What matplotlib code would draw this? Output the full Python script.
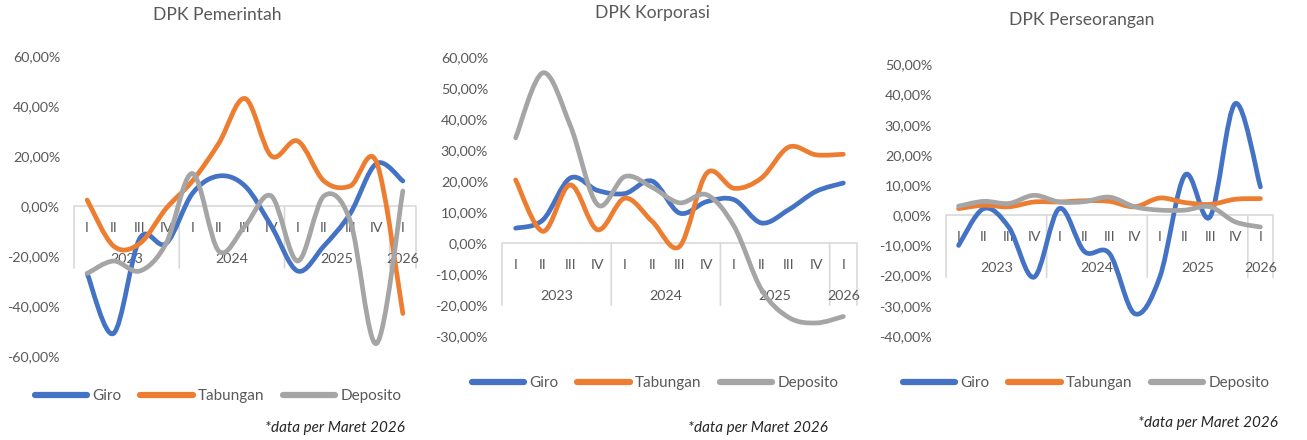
import matplotlib.pyplot as plt
from matplotlib.path import Path
from matplotlib.patches import PathPatch
from matplotlib.lines import Line2D
from matplotlib.ticker import FuncFormatter

plt.rcParams['font.family'] = ['Lato', 'DejaVu Sans']

# quarters 2023 I .. 2026 I
quarters = ['I', 'II', 'III', 'IV', 'I', 'II', 'III', 'IV', 'I', 'II', 'III', 'IV', 'I']
years = ['2023', '2024', '2025', '2026']
year_sizes = [4, 4, 4, 1]

# DPK Pemerintah (%)
pem_giro = [-27, -51, -13, -15, 5, 12, 8, -8, -26, -16, -3, 17, 10]
pem_tabungan = [2.4, -16, -15, -1, 10, 25, 43, 20, 26, 10, 8, 17.5, -43]
pem_deposito = [-27, -22, -26, -15, 13, -18, -8, 4, -22, 4, -6, -55, 6]

# DPK Korporasi (%)
kor_giro = [4.8, 7.5, 21, 17, 16, 20, 9.7, 13.4, 14, 6.5, 10.8, 16.7, 19.4]
kor_tabungan = [20.4, 3.8, 18.8, 4.3, 14.5, 7, -1.1, 22.6, 17.7, 21, 31, 28.5, 28.7]
kor_deposito = [34, 55, 38, 12.4, 21.5, 18, 13, 15.6, 5.4, -15, -24, -25.8, -23.7]

# DPK Perseorangan (%)
per_giro = [-10, 2.2, -4, -20.5, 2.2, -12, -12.7, -32.6, -20.5, 13.3, -0.5, 37, 9.4]
per_tabungan = [2.2, 3.3, 2.8, 4.4, 4.4, 4.8, 4.6, 2.8, 5.7, 4.2, 3.6, 5.3, 5.5]
per_deposito = [3, 4.6, 3.9, 6.6, 4.4, 4.5, 6, 2.8, 1.7, 1.7, 2.8, -2.2, -3.9]

series_names = ['Giro', 'Tabungan', 'Deposito']
colors = ['#4472C4', '#ED7D31', '#A5A5A5']
text_color = '#595959'
axis_color = '#D9D9D9'

W, H = 1307, 440
fig = plt.figure(figsize=(W / 100, H / 100), dpi=100)


def smooth_path(ys):
    # Excel-style smoothed line: cubic bezier through each point
    xs = list(range(len(ys)))
    pts = list(zip(xs, ys))
    verts = [pts[0]]
    codes = [Path.MOVETO]
    n = len(pts)
    for i in range(n - 1):
        p0 = pts[i - 1] if i > 0 else pts[i]
        p1 = pts[i]
        p2 = pts[i + 1]
        p3 = pts[i + 2] if i + 2 < n else pts[i + 1]
        c1 = (p1[0] + (p2[0] - p0[0]) / 6, p1[1] + (p2[1] - p0[1]) / 6)
        c2 = (p2[0] - (p3[0] - p1[0]) / 6, p2[1] - (p3[1] - p1[1]) / 6)
        verts += [c1, c2, p2]
        codes += [Path.CURVE4] * 3
    return Path(verts, codes)


def panel(box, title, title_xy, data, ylim, step, legend_xy, note_xy):
    left, top, right, bottom = box
    ax = fig.add_axes([left / W, 1 - bottom / H, (right - left) / W, (bottom - top) / H])
    for ys, c in zip(data, colors):
        ax.add_patch(PathPatch(smooth_path(ys), fill=False, edgecolor=c, lw=3.4,
                               capstyle='round', joinstyle='round', zorder=3))
    ax.set_xlim(-0.5, len(quarters) - 0.5)
    ax.set_ylim(*ylim)
    ax.set_yticks(range(ylim[0], ylim[1] + 1, step))
    ax.yaxis.set_major_formatter(FuncFormatter(lambda v, p: f'{v:.2f}'.replace('.', ',') + '%'))
    ax.tick_params(axis='y', length=0, pad=10, labelsize=10.3, labelcolor=text_color)
    ax.set_xticks([])
    for s in ax.spines.values():
        s.set_visible(False)
    ax.patch.set_alpha(0)

    # category axis at zero
    ax.axhline(0, color=axis_color, lw=1.2, zorder=1)
    bounds = [-0.5]
    for n in year_sizes:
        bounds.append(bounds[-1] + n)
    for b in bounds:
        ax.annotate('', xy=(b, 0), xytext=(0, -62), textcoords='offset pixels',
                    arrowprops=dict(arrowstyle='-', color=axis_color, lw=1.2,
                                    shrinkA=0, shrinkB=0), zorder=1)
    for i, q in enumerate(quarters):
        ax.annotate(q, xy=(i, 0), xytext=(0, -22), textcoords='offset pixels',
                    ha='center', va='center', fontsize=10.3, color=text_color, zorder=1)
    for k, y in enumerate(years):
        c = (bounds[k] + bounds[k + 1]) / 2
        ax.annotate(y, xy=(c, 0), xytext=(0, -53), textcoords='offset pixels',
                    ha='center', va='center', fontsize=10.3, color=text_color, zorder=1)

    fig.text(title_xy[0] / W, 1 - title_xy[1] / H, title, ha='center', va='center',
             fontsize=12.6, color=text_color)
    handles = [Line2D([], [], color=c, lw=4.5, solid_capstyle='round') for c in colors]
    ax.legend(handles, series_names, loc='center', ncol=3, frameon=False,
              bbox_to_anchor=(legend_xy[0] / W, 1 - legend_xy[1] / H),
              bbox_transform=fig.transFigure, fontsize=11, labelcolor=text_color,
              handlelength=3.45, handletextpad=0.33, columnspacing=1.2)
    fig.text(note_xy[0] / W, 1 - note_xy[1] / H, '*data per Maret 2026', ha='right',
             va='center', fontsize=11, style='italic', color='#262626')
    return ax


panel((74, 56, 416, 356), 'DPK Pemerintah', (217, 15),
      [pem_giro, pem_tabungan, pem_deposito], (-60, 60), 20, (218, 396), (405, 428))
panel((502, 57.3, 857, 336), 'DPK Korporasi', (652, 13),
      [kor_giro, kor_tabungan, kor_deposito], (-30, 60), 10, (655, 383), (828, 428))
panel((946, 64.3, 1273, 336), 'DPK Perseorangan', (1082, 20),
      [per_giro, per_tabungan, per_deposito], (-40, 50), 10, (1086, 383), (1278, 423))

fig.savefig('out.png', dpi=100, facecolor='white')
